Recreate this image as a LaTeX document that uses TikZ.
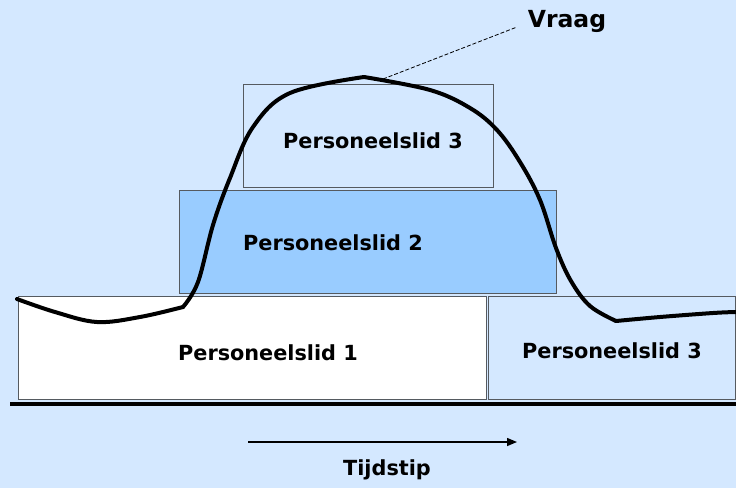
\documentclass[tikz,border=0pt]{standalone}
\usepackage{fontspec}
\setmainfont{DejaVu Sans}
\usetikzlibrary{arrows.meta}
\definecolor{bg}{HTML}{D4E8FF}
\definecolor{blue2}{HTML}{99CCFF}
\definecolor{edge}{HTML}{555A60}
\begin{document}
\begin{tikzpicture}[x=1pt,y=-1pt,
  box/.style={draw=edge,line width=1pt,inner sep=0pt,anchor=north west},
  lbl/.style={font=\bfseries\fontsize{20.8}{24}\selectfont,inner sep=0pt},
  curve/.style={line width=4pt,line join=round,line cap=round}]
\fill[bg] (0,0) rectangle (736,488);
\useasboundingbox (0,0) rectangle (736,488);
% boxes
\node[box,fill=bg,minimum width=250pt,minimum height=103pt] (b3t) at (243,84) {};
\node[box,fill=blue2,minimum width=377pt,minimum height=103pt] (b2) at (179,190) {};
\node[box,fill=white,minimum width=468pt,minimum height=103pt] (b1) at (18,296) {};
\node[box,fill=bg,minimum width=247pt,minimum height=103pt] (b3r) at (488,296) {};
% labels
\node[lbl] (t3t) at (373,141) {Personeelslid 3};
\node[lbl] (t2) at (333,243) {Personeelslid 2};
\node[lbl] (t1) at (268,353) {Personeelslid 1};
\node[lbl] (t3r) at (612,351) {Personeelslid 3};
% baseline
\coordinate (bl) at (10,404);
\coordinate (br) at (736,404);
\draw[line width=4pt] (bl) -- (br);
% demand curve
\draw[curve] plot[smooth,tension=0.6] coordinates {(17,299) (55,312) (97,322) (140,317) (183,307)};
\draw[curve] plot[smooth,tension=0.6] coordinates {(183,307) (198,282) (213,225) (230,178) (253,127) (290,93) (364,77)};
\draw[curve] plot[smooth,tension=0.6] coordinates {(364,77) (430,90) (470,108) (497,130) (520,162) (540,200) (556,248) (571,281) (590,306) (616,321)};
\draw[curve] plot[smooth,tension=0.6] coordinates {(616,321) (660,317) (713,313) (736,312)};
% Vraag
\node[lbl,font=\bfseries\fontsize{23.5}{27}\selectfont] (vraag) at (567,21) {Vraag};
\coordinate (peak) at (383,79);
\draw[dashed,line width=0.8pt,dash pattern=on 4pt off 2pt] (peak) -- (517,27);
% time arrow
\coordinate (a1) at (248,442);
\coordinate (a2) at (517,442);
\draw[line width=1.4pt,-{Triangle[length=10pt,width=8pt]}] (a1) -- (a2);
\node[lbl] (tijd) at (387,470) {Tijdstip};
\end{tikzpicture}
\end{document}
